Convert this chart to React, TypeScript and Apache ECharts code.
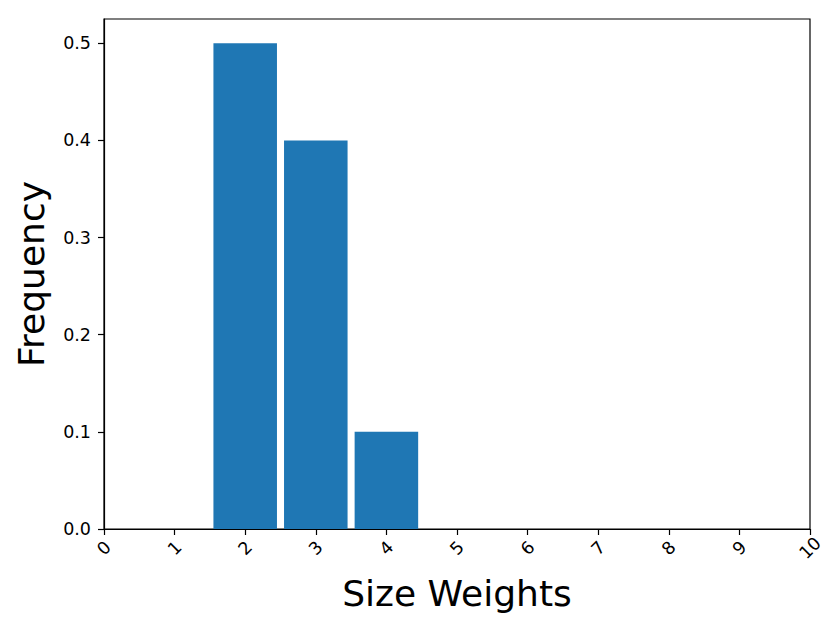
import React, { useEffect, useRef } from "react";
import * as echarts from "echarts";

const sizeWeights = [2, 3, 4];
const frequencies = [0.5, 0.4, 0.1];
const xTicks = [0, 1, 2, 3, 4, 5, 6, 7, 8, 9, 10];
const yTicks = [0, 0.1, 0.2, 0.3, 0.4, 0.5];
const BAR_WIDTH = 0.9;

export default function App() {
  const ref = useRef<HTMLDivElement>(null);
  useEffect(() => {
    if (!ref.current) return;
    const chart = echarts.init(ref.current, null, { renderer: "svg" });
    const font = "DejaVu Sans";
    chart.setOption({
      animation: false,
      backgroundColor: "#ffffff",
      grid: {
        left: 104,
        right: 20,
        top: 19,
        bottom: 94,
        show: true,
        borderColor: "#000000",
        borderWidth: 1.2,
        backgroundColor: "transparent",
      },
      xAxis: {
        type: "value",
        min: 0,
        max: 10,
        interval: 1,
        name: "Size Weights",
        nameLocation: "middle",
        nameGap: 46,
        nameTextStyle: { fontFamily: font, fontSize: 36, color: "#000" },
        axisLine: { show: true, lineStyle: { color: "#000", width: 1.2 } },
        axisTick: { show: true, length: 6, lineStyle: { color: "#000", width: 1.2 }, customValues: xTicks },
        axisLabel: {
          customValues: xTicks,
          rotate: 45,
          align: "center",
          verticalAlign: "middle",
          margin: 19,
          fontFamily: font,
          fontSize: 17.5,
          color: "#000",
          formatter: (v: number) => String(v),
        },
        splitLine: { show: false },
      },
      yAxis: {
        type: "value",
        min: 0,
        max: 0.525,
        interval: 0.1,
        name: "Frequency",
        nameLocation: "middle",
        nameGap: 55,
        nameTextStyle: { fontFamily: font, fontSize: 36, color: "#000" },
        axisLine: { show: true, lineStyle: { color: "#000", width: 1.2 } },
        axisTick: { show: true, length: 6, lineStyle: { color: "#000", width: 1.2 }, customValues: yTicks },
        axisLabel: {
          customValues: yTicks,
          margin: 13,
          fontFamily: font,
          fontSize: 17.5,
          color: "#000",
          formatter: (v: number) => v.toFixed(1),
        },
        splitLine: { show: false },
      },
      series: [
        {
          type: "custom",
          data: sizeWeights.map((x, i) => [x, frequencies[i]]),
          renderItem: (params: any, api: any) => {
            const x = api.value(0);
            const y = api.value(1);
            const p0 = api.coord([x - BAR_WIDTH / 2, y]);
            const p1 = api.coord([x + BAR_WIDTH / 2, 0]);
            return {
              type: "rect",
              shape: { x: p0[0], y: p0[1], width: p1[0] - p0[0], height: p1[1] - p0[1] },
              style: { fill: "#1f77b4" },
            };
          },
          encode: { x: 0, y: 1 },
        },
      ],
    });
    return () => chart.dispose();
  }, []);
  return (
    <div
      ref={ref}
      style={{ position: "fixed", left: 0, top: 0, width: 830, height: 623, background: "#fff" }}
    />
  );
}
